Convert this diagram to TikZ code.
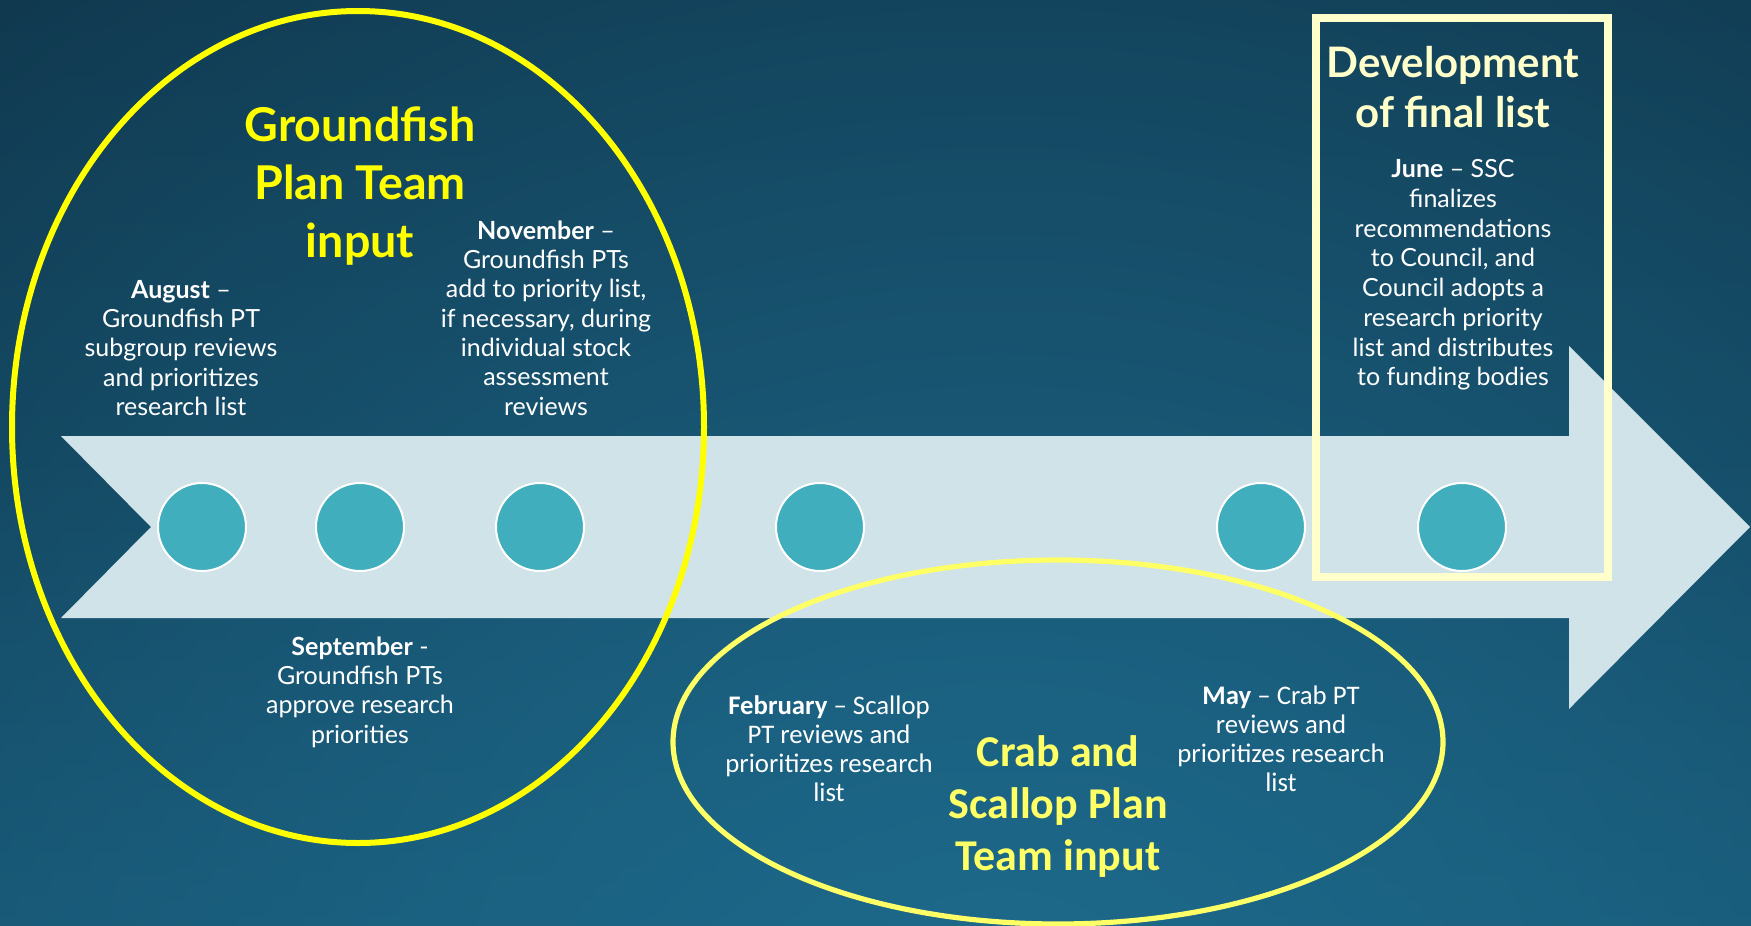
\documentclass[tikz,border=0pt]{standalone}
\usepackage{fontspec}
\setmainfont{Lato}
\newfontfamily\calib[Ligatures=TeX]{Carlito}
\usetikzlibrary{positioning,fadings}
\definecolor{bgtop}{HTML}{0E3145}
\definecolor{bgbot}{HTML}{144E69}
\definecolor{bglight}{HTML}{1E6A8C}
\definecolor{band}{HTML}{D0E3E8}
\definecolor{dotfill}{HTML}{40AEBD}
\definecolor{gfyellow}{HTML}{FFFF00}
\definecolor{crabyellow}{HTML}{FFFF66}
\definecolor{cream}{HTML}{FFFFCC}
\tikzfading[name=glowfade,inner color=transparent!0,outer color=transparent!100]

\begin{document}
\begin{tikzpicture}[x=0.5pt,y=-0.5pt,
    dot/.style={circle,fill=dotfill,draw=white,line width=1pt,minimum size=44pt,inner sep=0pt},
    note/.style={align=center,text=white,inner sep=0pt,font=\fontsize{12.5}{14.65}\selectfont},
    crabnote/.style={note,font=\calib\fontsize{13.4}{14.5}\selectfont},
    title/.style={align=center,inner sep=0pt,font=\bfseries\fontsize{23.3}{29}\selectfont},
    node distance=34pt]
    % background
    \useasboundingbox (0,0) rectangle (1751,926);
    \shade[top color=bgtop,bottom color=bgbot,middle color=bgtop!75!bgbot] (0,0) rectangle (1751,926);
    \begin{scope}
    \clip (0,0) rectangle (1751,926);
    \fill[bglight,path fading=glowfade] (1000,1050) ellipse (900pt and 800pt);
    \end{scope}
    % timeline arrow
    \fill[band] (61,436) -- (1569,436) -- (1569,346) -- (1750,527) -- (1569,709)
        -- (1569,618) -- (61,618) -- (151,527) -- cycle;
    \node(aug)[dot] at (202,527) {};
    \node(sep)[dot,right=of aug] {};
    \node(nov)[dot,right=45pt of sep] {};
    \node(feb)[dot,right=95pt of nov] {};
    \node(may)[dot,right=175.5pt of feb] {};
    \node(jun)[dot,right=55.5pt of may] {};
    % groups
    \draw[gfyellow,line width=3pt] (358,427) ellipse (173pt and 208pt);
    \draw[crabyellow,line width=2.6pt] (1058,742) ellipse (192.5pt and 91pt);
    \draw[cream,line width=4pt] (1316,18) rectangle (1608,577);
    % titles
    \node(gft)[title,text=gfyellow] at (360,186) {Groundfish\\Plan Team\\input};
    \node(cst)[title,text=crabyellow,font=\calib\bfseries\fontsize{22}{26}\selectfont] at (1058,807) {Crab and\\Scallop Plan\\Team input};
    \node(dvt)[title,text=cream,font=\bfseries\fontsize{21}{25}\selectfont] at (1453,87) {Development\\of final list};
    % month notes
    \node(augt)[note] at (181,348) {\textbf{August} –\\Groundfish PT\\subgroup reviews\\and prioritizes\\research list};
    \node(novt)[note] at (546,318) {\textbf{November} –\\Groundfish PTs\\add to priority list,\\if necessary, during\\individual stock\\assessment\\reviews};
    \node(sept)[note] at (360,692) {\textbf{September} -\\Groundfish PTs\\approve research\\priorities};
    \node(febt)[crabnote] at (829,749) {\textbf{February} – Scallop\\PT reviews and\\prioritizes research\\list};
    \node(mayt)[crabnote] at (1281,739) {\textbf{May} – Crab PT\\reviews and\\prioritizes research\\list};
    \node(junt)[note,font=\fontsize{12.5}{14.85}\selectfont] at (1453,275) {\textbf{June} – SSC\\finalizes\\recommendations\\to Council, and\\Council adopts a\\research priority\\list and distributes\\to funding bodies};
\end{tikzpicture}
\end{document}
